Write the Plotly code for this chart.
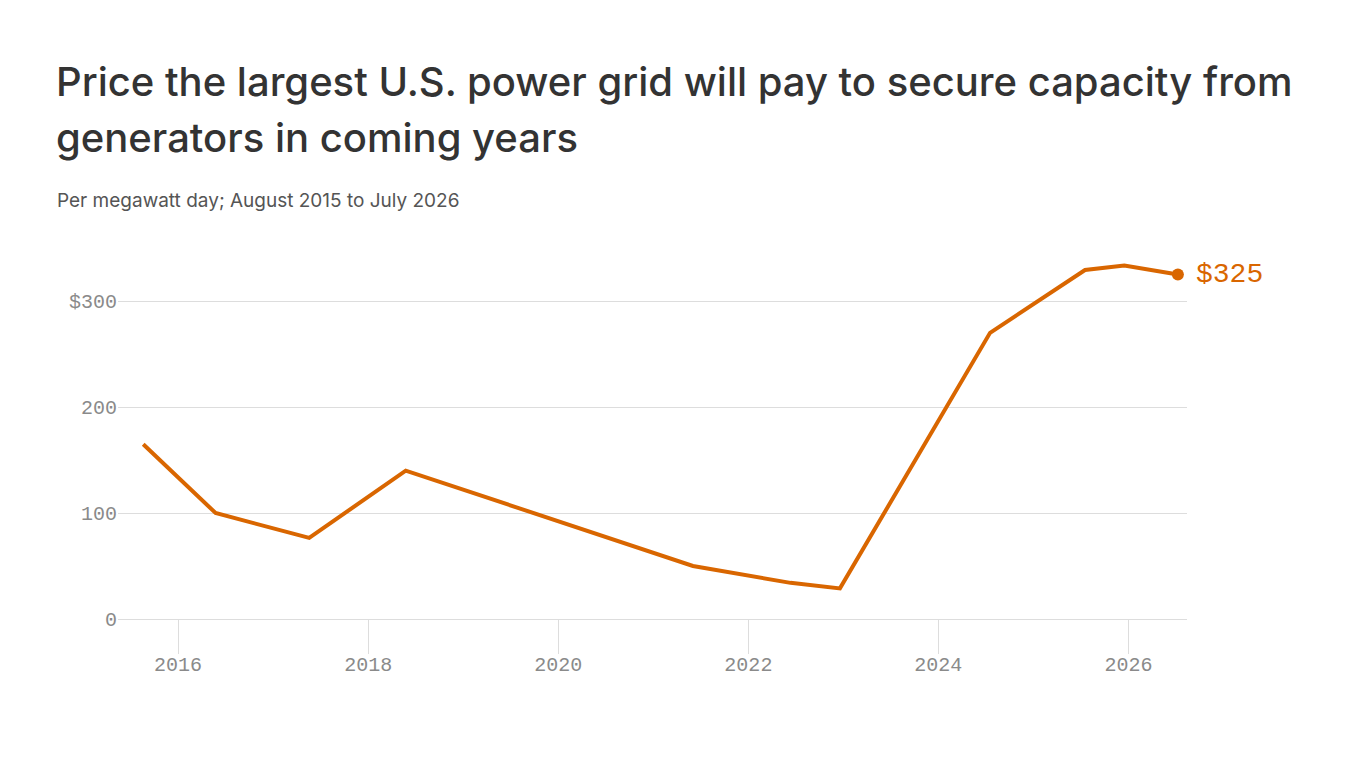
import plotly.graph_objects as go

# ---- data ----
dates = ["2015-08-20", "2016-05-24", "2017-05-19", "2018-05-25", "2021-06-02",
         "2022-06-12", "2022-12-19", "2024-07-18", "2025-07-18", "2025-12-16",
         "2026-07-10"]
prices = [164.8, 100, 76.5, 140, 50, 34.1, 28.9, 270, 329.2, 333.4, 325]

y_tickvals = [0, 100, 200, 300]
y_ticktext = ["0", "100", "200", "$300"]

title_lines = ["Price the largest U.S. power grid will pay to secure capacity from",
               "generators in coming years"]
subtitle = "Per megawatt day; August 2015 to July 2026"
end_label = "$325"

ORANGE = "#d96600"
GRID = "#dddddd"
TICKFONT = dict(family="Liberation Mono, DejaVu Sans Mono, monospace", size=20, color="#8a8a8a")

# plot area in pixels
W, H = 1366, 768
L, R, T, B = 118, 1187, 248, 619

def px(x):
    return (x - L) / (R - L)

def py(y):
    return (B - y) / (B - T)

fig = go.Figure()
fig.add_trace(go.Scatter(x=dates, y=prices, mode="lines",
                         line=dict(color=ORANGE, width=4), hoverinfo="x+y"))
fig.add_trace(go.Scatter(x=[dates[-1]], y=[prices[-1]], mode="markers",
                         marker=dict(color=ORANGE, size=12), cliponaxis=False))

TITLEFONT = dict(family="Inter, Roboto, sans-serif", size=40, color="#333333", weight=500)
annotations = [
    dict(text=title_lines[0], x=px(54), y=py(81), xref="paper", yref="paper",
         xanchor="left", yanchor="middle", showarrow=False, font=TITLEFONT),
    dict(text=title_lines[1], x=px(54), y=py(137), xref="paper", yref="paper",
         xanchor="left", yanchor="middle", showarrow=False, font=TITLEFONT),
    dict(text=subtitle, x=px(55), y=py(200), xref="paper", yref="paper",
         xanchor="left", yanchor="middle", showarrow=False,
         font=dict(family="Inter, Roboto, sans-serif", size=19, color="#555555")),
    dict(text=end_label, x=dates[-1], y=prices[-1], xref="x", yref="y",
         xanchor="left", yanchor="middle", xshift=16, showarrow=False,
         font=dict(family="Liberation Mono, DejaVu Sans Mono, monospace", size=28, color=ORANGE)),
]

fig.update_layout(
    width=W, height=H,
    margin=dict(l=L, r=W - R, t=T, b=H - B, pad=0),
    paper_bgcolor="white", plot_bgcolor="white",
    showlegend=False,
    annotations=annotations,
    xaxis=dict(type="date", range=["2015-05-15", "2026-08-14"],
               tick0="2016-01-01", dtick="M24", tickformat="%Y",
               showgrid=False, zeroline=False, showline=False,
               ticks="outside", ticklen=34, tickcolor=GRID, tickwidth=1,
               ticklabelstandoff=-7,
               tickfont=TICKFONT, fixedrange=True),
    yaxis=dict(range=[0, 350], tickvals=y_tickvals, ticktext=y_ticktext,
               showgrid=True, gridcolor=GRID, gridwidth=1,
               zeroline=True, zerolinecolor=GRID, zerolinewidth=1,
               showline=False, ticks="", tickfont=TICKFONT, fixedrange=True),
)

fig.write_html("out.html", config={"displayModeBar": False})
